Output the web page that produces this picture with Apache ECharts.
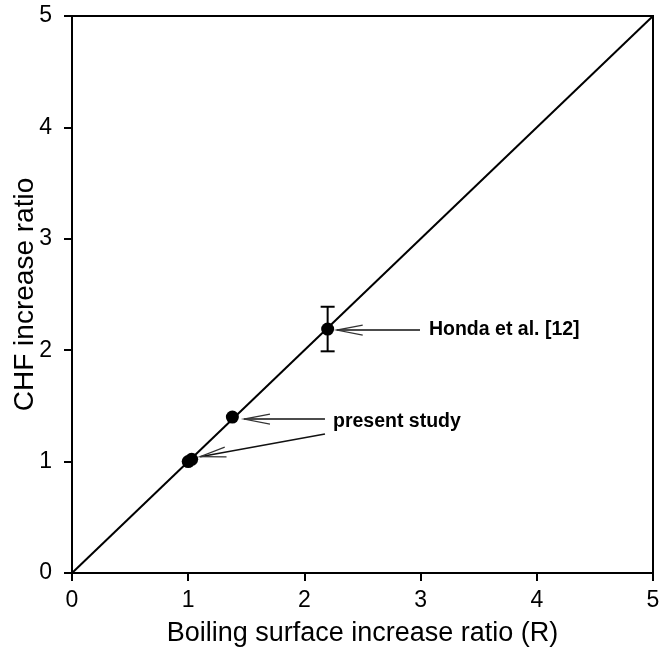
<!DOCTYPE html>
<html>
<head>
<meta charset="utf-8">
<script src="https://cdn.jsdelivr.net/npm/echarts@6/dist/echarts.min.js"></script>
<style>
html,body{margin:0;padding:0;background:#fff;}
#chart{width:669px;height:650px;}
</style>
</head>
<body>
<div id="chart"></div>
<script>
// Axis ticks
var xTicks = [0, 1, 2, 3, 4, 5];
var yTicks = [0, 1, 2, 3, 4, 5];

// Reference line y = x
var lineX = [0, 5];
var lineY = [0, 5];

// Data points (CHF increase ratio vs boiling surface increase ratio)
var pointsX = [1.00, 1.03, 1.38, 2.20];
var pointsY = [1.00, 1.02, 1.40, 2.19];

// Error bar (Honda et al.)
var errX = [2.20];
var errLow = [1.99];
var errHigh = [2.39];

// Annotation arrows (tail -> tip) in data units
var arrowTailX = [2.995, 2.177, 2.177];
var arrowTailY = [2.181, 1.382, 1.248];
var arrowTipX  = [2.278, 1.480, 1.102];
var arrowTipY  = [2.181, 1.382, 1.044];

// Annotation labels
var labelText = ['Honda et al. [12]', 'present study'];
var labelX = [3.072, 2.246];
var labelY = [2.181, 1.355];

var FONT = '"Liberation Sans", Arial, Helvetica, sans-serif';

var chart = echarts.init(document.getElementById('chart'), null, {renderer: 'canvas'});

var lineData = lineX.map(function (x, i) { return [x, lineY[i]]; });
var pointData = pointsX.map(function (x, i) { return [x, pointsY[i]]; });
var errData = errX.map(function (x, i) { return [x, errLow[i], errHigh[i]]; });
var arrowData = arrowTailX.map(function (x, i) { return [x, arrowTailY[i], arrowTipX[i], arrowTipY[i]]; });
var labelData = labelText.map(function (t, i) { return [labelX[i], labelY[i], t]; });

var option = {
  animation: false,
  backgroundColor: '#ffffff',
  grid: {left: 72, right: 16, top: 16, bottom: 77, containLabel: false, outerBoundsMode: 'none',
    show: true, borderColor: '#000', borderWidth: 2},
  xAxis: {
    type: 'value', min: xTicks[0], max: xTicks[xTicks.length - 1], interval: 1,
    name: 'Boiling surface increase ratio (R)', nameLocation: 'middle', nameGap: 47,
    nameMoveOverlap: false,
    nameTextStyle: {fontFamily: FONT, fontSize: 27, color: '#000'},
    axisLine: {show: true, onZero: false, lineStyle: {color: '#000', width: 2}},
    axisTick: {show: true, inside: false, length: 8, lineStyle: {color: '#000', width: 2}},
    axisLabel: {margin: 16, fontFamily: FONT, fontSize: 23, color: '#000',
      formatter: function (v) { return xTicks.indexOf(v) >= 0 ? String(v) : ''; }},
    splitLine: {show: false}
  },
  yAxis: {
    type: 'value', min: yTicks[0], max: yTicks[yTicks.length - 1], interval: 1,
    name: 'CHF increase ratio', nameLocation: 'middle', nameGap: 33, nameRotate: 90,
    nameMoveOverlap: false,
    nameTextStyle: {fontFamily: FONT, fontSize: 28, color: '#000'},
    axisLine: {show: true, onZero: false, lineStyle: {color: '#000', width: 2}},
    axisTick: {show: true, inside: false, length: 8, lineStyle: {color: '#000', width: 2}},
    axisLabel: {margin: 20, fontFamily: FONT, fontSize: 23, color: '#000',
      formatter: function (v) { return yTicks.indexOf(v) >= 0 ? String(v) : ''; }},
    splitLine: {show: false}
  },
  series: [
    {
      type: 'line', data: lineData, showSymbol: false, symbol: 'none',
      lineStyle: {color: '#000', width: 2}, z: 2, silent: true
    },
    {
      type: 'custom', data: errData, z: 3, silent: true,
      renderItem: function (params, api) {
        var lo = api.coord([api.value(0), api.value(1)]);
        var hi = api.coord([api.value(0), api.value(2)]);
        var w = 7;
        var st = {stroke: '#000', lineWidth: 2};
        return {type: 'group', children: [
          {type: 'line', shape: {x1: lo[0], y1: lo[1], x2: hi[0], y2: hi[1]}, style: st},
          {type: 'line', shape: {x1: lo[0] - w, y1: lo[1], x2: lo[0] + w, y2: lo[1]}, style: st},
          {type: 'line', shape: {x1: hi[0] - w, y1: hi[1], x2: hi[0] + w, y2: hi[1]}, style: st}
        ]};
      }
    },
    {
      type: 'scatter', data: pointData, symbol: 'circle', symbolSize: 13,
      itemStyle: {color: '#000', opacity: 1}, z: 4, silent: true
    },
    {
      type: 'custom', data: arrowData, z: 5, silent: true,
      renderItem: function (params, api) {
        var a = api.coord([api.value(0), api.value(1)]);
        var b = api.coord([api.value(2), api.value(3)]);
        var dx = a[0] - b[0], dy = a[1] - b[1];
        var len = Math.sqrt(dx * dx + dy * dy);
        var ux = dx / len, uy = dy / len;
        var px = -uy, py = ux;
        var L = 26, H = 5;
        var b1 = [b[0] + ux * L + px * H, b[1] + uy * L + py * H];
        var b2 = [b[0] + ux * L - px * H, b[1] + uy * L - py * H];
        return {type: 'group', children: [
          {type: 'line', shape: {x1: a[0], y1: a[1], x2: b[0], y2: b[1]}, style: {stroke: '#111', lineWidth: 1.5}},
          {type: 'polyline', shape: {points: [b1, b, b2]}, style: {stroke: '#333', lineWidth: 1.2, fill: null}}
        ]};
      }
    },
    {
      type: 'custom', data: labelData, z: 6, silent: true,
      renderItem: function (params, api) {
        var p = api.coord([api.value(0), api.value(1)]);
        return {type: 'text', x: p[0], y: p[1], style: {
          text: labelText[params.dataIndex], fill: '#000',
          font: 'bold 19.5px ' + FONT, textAlign: 'left', textVerticalAlign: 'middle'
        }};
      }
    }
  ]
};
chart.setOption(option);
</script>
</body>
</html>
